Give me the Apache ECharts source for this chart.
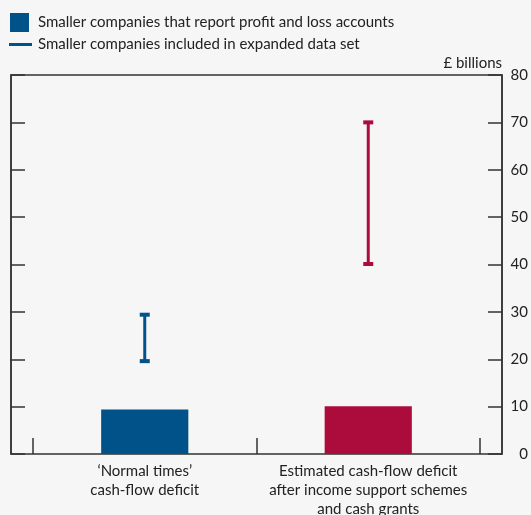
<!DOCTYPE html>
<html>
<head>
<meta charset="utf-8">
<script src="https://cdn.jsdelivr.net/npm/echarts@6/dist/echarts.min.js"></script>
<style>
html,body{margin:0;padding:0;background:#f6f6f6;}
#c{width:531px;height:515px;}
</style>
</head>
<body>
<div id="c"></div>
<script>
var categories = ["\u2018Normal times\u2019\ncash-flow deficit", "Estimated cash-flow deficit\nafter income support schemes\nand cash grants"];
var barValues = [9.4, 10.1];
var rangeLow = [19.6, 40.1];
var rangeHigh = [29.4, 70.0];
var yTicks = [0, 10, 20, 30, 40, 50, 60, 70, 80];
var barColors = ["#005289", "#ac0c3c"];
var seriesNames = ["Smaller companies that report profit and loss accounts", "Smaller companies included in expanded data set"];

var FONT = "Lato";
var FS = 15;
var chart = echarts.init(document.getElementById('c'), null, {renderer: 'canvas'});

var errData = categories.map(function (c, i) { return [i, rangeLow[i], rangeHigh[i]]; });

var option = {
  backgroundColor: '#f6f6f6',
  textStyle: {fontFamily: FONT},
  animation: false,
  legend: [
    {left: 10, top: 13, padding: 0, itemWidth: 19, itemHeight: 19, icon: 'rect', data: [seriesNames[0]],
     textStyle: {fontFamily: FONT, fontSize: FS, color: '#222', padding: [0, 0, 0, 4]}, itemGap: 8},
    {left: 9, top: 37, padding: 0, itemWidth: 23, itemHeight: 3, icon: 'rect', data: [seriesNames[1]],
     textStyle: {fontFamily: FONT, fontSize: FS, color: '#222', padding: [0, 0, 0, 1]}, itemGap: 8}
  ],
  grid: [
    {left: 11, right: 29, top: 75, bottom: 61, outerBoundsMode: 'none', containLabel: false,
     show: true, borderColor: '#333', borderWidth: 1.5, backgroundColor: 'transparent'},
    {left: 33, right: 51, top: 75, bottom: 61, outerBoundsMode: 'none', containLabel: false}
  ],
  xAxis: [
    {gridIndex: 0, type: 'value', show: false, min: 0, max: 1},
    {gridIndex: 1, type: 'category', data: categories,
     axisLine: {show: false},
     axisTick: {show: true, inside: true, length: 16, interval: 0, lineStyle: {color: '#333', width: 1.5}},
     axisLabel: {interval: 0, fontFamily: FONT, fontSize: FS, color: '#222', lineHeight: 19, margin: 8}}
  ],
  yAxis: [
    {gridIndex: 0, type: 'value', position: 'left', min: 0, max: 80, interval: 10,
     axisLine: {show: true, lineStyle: {color: '#333', width: 1.5}},
     axisTick: {show: true, inside: true, length: 14, lineStyle: {color: '#333', width: 1.5}},
     axisLabel: {show: false}, splitLine: {show: false}},
    {gridIndex: 0, type: 'value', position: 'right', min: 0, max: 80, interval: 10,
     name: '\u00a3 billions', nameLocation: 'end', nameGap: 4,
     nameTextStyle: {fontFamily: FONT, fontSize: FS, color: '#222', align: 'right', verticalAlign: 'bottom'},
     axisLine: {show: true, lineStyle: {color: '#333', width: 1.5}},
     axisTick: {show: true, inside: true, length: 14, lineStyle: {color: '#333', width: 1.5}},
     axisLabel: {show: true, inside: false, margin: 26, align: 'right', fontFamily: FONT, fontSize: FS, color: '#222',
       formatter: function (v) { return yTicks.indexOf(v) >= 0 ? String(v) : ''; }},
     splitLine: {show: false}},
    {gridIndex: 1, type: 'value', show: false, min: 0, max: 80}
  ],
  series: [
    {name: seriesNames[0], type: 'bar', xAxisIndex: 1, yAxisIndex: 2, barWidth: '39%',
     itemStyle: {color: barColors[0]},
     data: barValues.map(function (v, i) { return {value: v, itemStyle: {color: barColors[i]}}; })},
    {name: seriesNames[1], type: 'custom', xAxisIndex: 1, yAxisIndex: 2,
     itemStyle: {color: barColors[0]},
     data: errData,
     renderItem: function (params, api) {
       var x = api.value(0);
       var lo = api.coord([x, api.value(1)]);
       var hi = api.coord([x, api.value(2)]);
       var col = barColors[params.dataIndex];
       var capW = 10, capH = 4;
       return {type: 'group', children: [
         {type: 'line', shape: {x1: lo[0], y1: lo[1], x2: hi[0], y2: hi[1]}, style: {stroke: col, lineWidth: 3}},
         {type: 'rect', shape: {x: hi[0] - capW / 2, y: hi[1] - capH / 2, width: capW, height: capH}, style: {fill: col}},
         {type: 'rect', shape: {x: lo[0] - capW / 2, y: lo[1] - capH / 2, width: capW, height: capH}, style: {fill: col}}
       ]};
     }}
  ]
};
chart.setOption(option);
</script>
</body>
</html>
